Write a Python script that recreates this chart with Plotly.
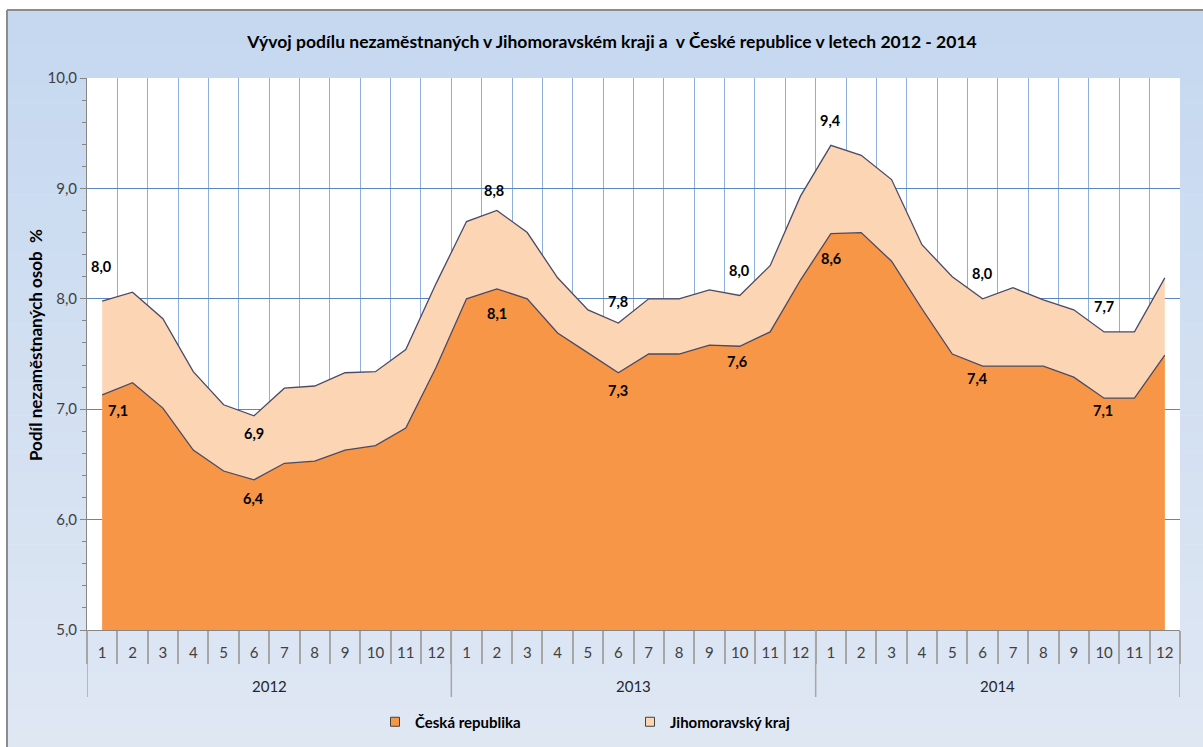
import plotly.graph_objects as go

# ---------------- data ----------------
years = [2012, 2013, 2014]
months = [str(m) for m in range(1, 13)] * 3

cr = [7.13, 7.24, 7.01, 6.63, 6.44, 6.36, 6.51, 6.53, 6.63, 6.67, 6.83, 7.38,
      8.00, 8.09, 8.00, 7.69, 7.51, 7.33, 7.50, 7.50, 7.58, 7.57, 7.70, 8.17,
      8.59, 8.60, 8.34, 7.91, 7.50, 7.39, 7.39, 7.39, 7.29, 7.10, 7.10, 7.49]
jmk = [7.98, 8.06, 7.82, 7.34, 7.04, 6.94, 7.19, 7.21, 7.33, 7.34, 7.54, 8.14,
       8.70, 8.80, 8.60, 8.19, 7.90, 7.78, 8.00, 8.00, 8.08, 8.03, 8.30, 8.93,
       9.39, 9.30, 9.08, 8.49, 8.20, 8.00, 8.10, 7.99, 7.90, 7.70, 7.70, 8.19]

label_idx = [0, 5, 13, 17, 21, 24, 29, 33]

# label pixel offsets (style)
jmk_shift = [(-1, 35), (0, -18), (-3, 20), (0, 22), (0, 25), (0, 25), (0, 25), (0, 25)]
cr_shift = [(16, -16), (0, -19), (0, -25), (0, -18), (-3, -15), (0, -25), (-5, -12), (-1, -12)]

# ---------------- style ----------------
W, H = 1203, 747
ML, MR, MT, MB = 87, 23, 78, 117
PW, PH = W - ML - MR, H - MT - MB
FONT = "Lato"
C_CR = "#f79646"
C_JMK = "#fcd5b5"
C_EDGE = "#4a4a66"

def px_x(p):
    return (p - ML) / PW

def px_y(p):
    return (H - MB - p) / PH

n = len(cr)
x = list(range(n))

fig = go.Figure()
fig.add_trace(go.Scatter(x=x, y=jmk, mode="lines", fill="tozeroy", fillcolor=C_JMK,
                         line=dict(color=C_EDGE, width=1.3), showlegend=False,
                         name="Jihomoravský kraj"))
fig.add_trace(go.Scatter(x=x, y=cr, mode="lines", fill="tozeroy", fillcolor=C_CR,
                         line=dict(color=C_EDGE, width=1.3), showlegend=False,
                         name="Česká republika"))
# legend entries
fig.add_trace(go.Scatter(x=[None], y=[None], mode="markers", name="Česká republika",
                         marker=dict(symbol="square", size=9, color=C_CR,
                                     line=dict(color="#404040", width=1))))
fig.add_trace(go.Scatter(x=[None], y=[None], mode="markers", name="Jihomoravský kraj",
                         marker=dict(symbol="square", size=9, color=C_JMK,
                                     line=dict(color="#404040", width=1))))

shapes = []
# gradient background of chart area
top_c = (0xc5, 0xd8, 0xf0)
bot_c = (0xdf, 0xe7, 0xf3)
y_top, y_bot = 10, 747
nb = 40
for i in range(nb):
    t = i / (nb - 1)
    c = tuple(int(round(top_c[k] + (bot_c[k] - top_c[k]) * t)) for k in range(3))
    p0 = y_top + (y_bot - y_top) * i / nb
    p1 = y_top + (y_bot - y_top) * (i + 1) / nb + 0.5
    shapes.append(dict(type="rect", xref="paper", yref="paper", layer="below",
                       x0=px_x(7), x1=px_x(W + 5), y0=px_y(p0), y1=px_y(p1),
                       fillcolor="rgb(%d,%d,%d)" % c, line=dict(width=0)))
# white plot area
shapes.append(dict(type="rect", xref="paper", yref="paper", layer="below",
                   x0=0, x1=1, y0=0, y1=1, fillcolor="white", line=dict(width=0)))
# border (left and top)
shapes.append(dict(type="line", xref="paper", yref="paper", x0=px_x(7), x1=px_x(7),
                   y0=px_y(10), y1=px_y(H + 5), line=dict(color="#8c8c8c", width=2)))
shapes.append(dict(type="line", xref="paper", yref="paper", x0=px_x(7), x1=px_x(W + 5),
                   y0=px_y(10), y1=px_y(10), line=dict(color="#8c8c8c", width=2)))
# year dividers
for k in range(len(years) + 1):
    shapes.append(dict(type="line", xref="x", yref="paper", x0=12 * k - 0.5, x1=12 * k - 0.5,
                       y0=0, y1=px_y(697), line=dict(color="#a6a6a6", width=1.5)))

annotations = []
for k, yr in enumerate(years):
    annotations.append(dict(x=12 * k + 5.5, y=px_y(686), xref="x", yref="paper",
                            xanchor="center", yanchor="middle",
                            text=str(yr), showarrow=False,
                            font=dict(family=FONT, size=15, color="#262626")))

def fmt(v):
    return ("%.1f" % v).replace(".", ",")

LBL_FONT = dict(family=FONT, size=14.5, color="black", weight="bold")
for i, (dx, dy) in zip(label_idx, jmk_shift):
    annotations.append(dict(x=i, y=jmk[i], xref="x", yref="y", text=fmt(jmk[i]),
                            showarrow=False, xshift=dx, yshift=dy, font=LBL_FONT))
for i, (dx, dy) in zip(label_idx, cr_shift):
    annotations.append(dict(x=i, y=cr[i], xref="x", yref="y", text=fmt(cr[i]),
                            showarrow=False, xshift=dx, yshift=dy, font=LBL_FONT))

# y axis title
annotations.append(dict(x=px_x(35), y=px_y(345), xref="paper", yref="paper",
                        xanchor="center", yanchor="middle",
                        text="Podíl nezaměstnaných osob  %", textangle=-90, showarrow=False,
                        font=dict(family=FONT, size=17, color="black", weight="bold")))

fig.update_layout(
    width=W, height=H,
    margin=dict(l=ML, r=MR, t=MT, b=MB, autoexpand=False),
    paper_bgcolor="white", plot_bgcolor="white",
    separators=", ",
    font=dict(family=FONT, size=15, color="#404040"),
    title=dict(text="Vývoj podílu nezaměstnaných v Jihomoravském kraji a  v České republice v letech 2012 - 2014",
               x=612 / W, xanchor="center", y=1 - 42 / H, yanchor="middle",
               font=dict(family=FONT, size=17.5, color="black", weight="bold")),
    shapes=shapes,
    annotations=annotations,
    legend=dict(orientation="h", x=px_x(375), xanchor="left", y=px_y(722), yanchor="middle",
                font=dict(family=FONT, size=15, color="black", weight="bold"),
                bgcolor="rgba(0,0,0,0)", entrywidth=210, itemclick=False),
    xaxis=dict(range=[-0.5, n - 0.5], tickmode="array", tickvals=x, ticktext=months,
               ticks="outside", ticklen=9, tickcolor="rgba(0,0,0,0)",
               showgrid=False, zeroline=False,
               showline=True, linecolor="#868686", linewidth=1,
               tickfont=dict(family=FONT, size=15, color="#404040"),
               minor=dict(tick0=-0.5, dtick=1, ticks="outside", ticklen=33,
                          tickcolor="#a6a6a6", tickwidth=1.5,
                          showgrid=True, gridcolor="#8eaedb", gridwidth=1)),
    yaxis=dict(range=[5, 10], dtick=1, tickformat=".1f", ticks="outside", ticklen=6,
               tickcolor="#868686", showline=True, linecolor="#868686", linewidth=1,
               gridcolor="#5a86c2", gridwidth=1, zeroline=False,
               tickfont=dict(family=FONT, size=15, color="#404040"),
               minor=dict(dtick=0.2, ticks="outside", ticklen=4, tickcolor="#868686",
                          showgrid=False)),
)

fig.write_html("out.html", config={"displayModeBar": False},
               post_script="document.body.style.margin='0';document.body.style.overflow='hidden';")
